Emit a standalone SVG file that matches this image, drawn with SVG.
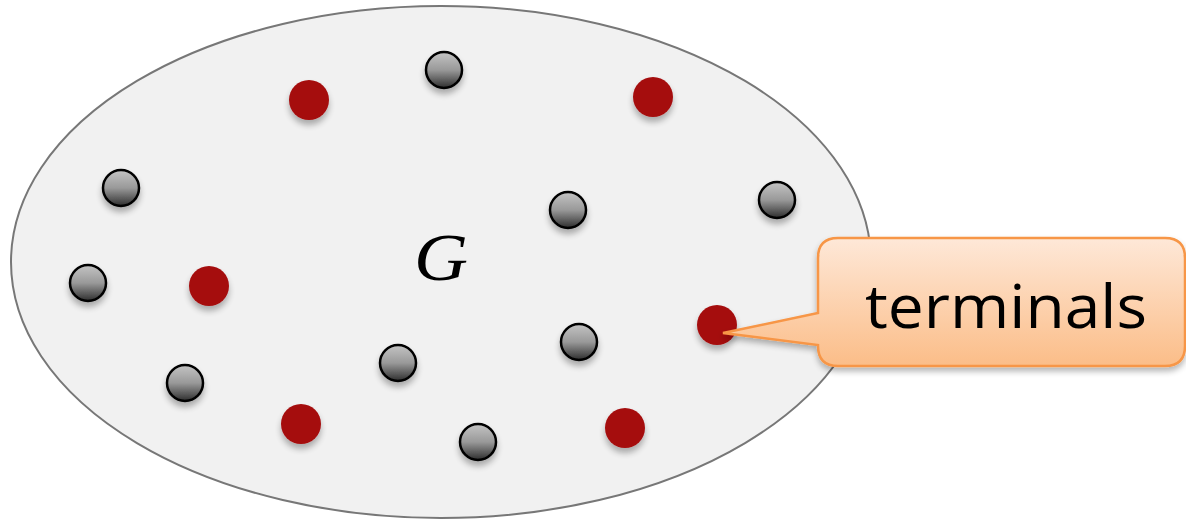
<svg xmlns="http://www.w3.org/2000/svg" width="1186" height="523" viewBox="0 0 1186 523">
<defs>
<linearGradient id="gg" x1="0" y1="0" x2="0" y2="1">
<stop offset="0" stop-color="#c4c4c4"/>
<stop offset="0.5" stop-color="#999"/>
<stop offset="1" stop-color="#2e2e2e"/>
</linearGradient>
<linearGradient id="cg" x1="0" y1="0" x2="0" y2="1">
<stop offset="0" stop-color="#fee8d8"/>
<stop offset="1" stop-color="#fbbd88"/>
</linearGradient>
<filter id="sh" x="-50%" y="-50%" width="200%" height="220%">
<feGaussianBlur in="SourceAlpha" stdDeviation="3"/>
<feOffset dx="0" dy="5" result="b"/>
<feComponentTransfer><feFuncA type="linear" slope="0.3"/></feComponentTransfer>
<feMerge><feMergeNode/><feMergeNode in="SourceGraphic"/></feMerge>
</filter>
<filter id="sh2" x="-10%" y="-10%" width="120%" height="130%">
<feGaussianBlur in="SourceAlpha" stdDeviation="3"/>
<feOffset dx="0" dy="4" result="b"/>
<feComponentTransfer><feFuncA type="linear" slope="0.3"/></feComponentTransfer>
<feMerge><feMergeNode/><feMergeNode in="SourceGraphic"/></feMerge>
</filter>
</defs>
<style>
.g{fill:url(#gg);stroke:#000;stroke-width:2.5;filter:url(#sh)}
.r{fill:#a50d10;filter:url(#sh)}
</style>
<rect width="1186" height="523" fill="#fff"/>
<g id="graph">
<ellipse cx="441" cy="262" rx="430" ry="256" fill="#f1f1f1" stroke="#777" stroke-width="2"/>
<text x="414" y="280" font-family="Liberation Serif, serif" font-style="italic" font-size="68" textLength="54" lengthAdjust="spacingAndGlyphs" fill="#000">G</text>
</g>
<g id="nodes">
<circle id="n1" class="g" cx="444" cy="70" r="18"/>
<circle id="n2" class="g" cx="121" cy="188" r="18"/>
<circle id="n3" class="g" cx="568" cy="210" r="18"/>
<circle id="n4" class="g" cx="777" cy="200" r="18"/>
<circle id="n5" class="g" cx="88" cy="283" r="18"/>
<circle id="n6" class="g" cx="579" cy="342" r="18"/>
<circle id="n7" class="g" cx="398" cy="363" r="18"/>
<circle id="n8" class="g" cx="185" cy="383" r="18"/>
<circle id="n9" class="g" cx="478" cy="442" r="18"/>
<circle id="t1" class="r" cx="309" cy="100" r="20"/>
<circle id="t2" class="r" cx="653" cy="97" r="20"/>
<circle id="t3" class="r" cx="209" cy="286" r="20"/>
<circle id="t4" class="r" cx="717" cy="325" r="20"/>
<circle id="t5" class="r" cx="301" cy="424" r="20"/>
<circle id="t6" class="r" cx="625" cy="428" r="20"/>
</g>
<g id="callout">
<path d="M838,238 H1165 Q1185,238 1185,258 V346 Q1185,366 1165,366 H838 Q818,366 818,346 V345 L723,333 L818,313 V258 Q818,238 838,238 Z" fill="url(#cg)" stroke="#f79646" stroke-width="2.5" filter="url(#sh2)"/>
<text x="865" y="328" font-family="Open Sans, sans-serif" font-size="60" textLength="282" lengthAdjust="spacingAndGlyphs" fill="#000">terminals</text>
</g>
</svg>
